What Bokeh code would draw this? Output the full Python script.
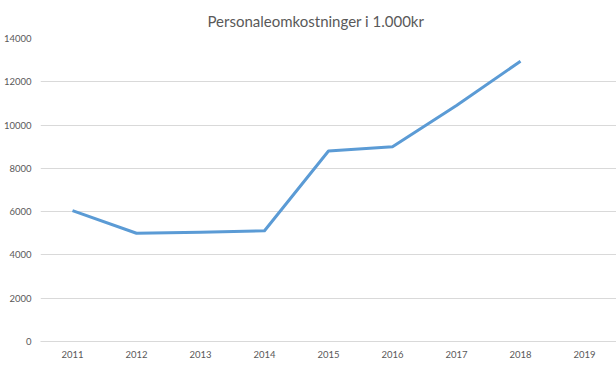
from bokeh.plotting import figure
from bokeh.models import Range1d, FactorRange, SingleIntervalTicker, ColumnDataSource
from bokeh.embed import file_html
from bokeh.resources import INLINE

title_text = "Personaleomkostninger i 1.000kr"
years = ["2011", "2012", "2013", "2014", "2015", "2016", "2017", "2018", "2019"]
line_years = ["2011", "2012", "2013", "2014", "2015", "2016", "2017", "2018"]
values = [6050, 5000, 5050, 5120, 8800, 9000, 10900, 12950]

src = ColumnDataSource(data=dict(x=line_years, y=values))

p = figure(width=616, height=366, output_backend="svg", toolbar_location=None,
           x_range=FactorRange(*years, range_padding=0), y_range=Range1d(0, 14000),
           title=title_text,
           min_border_left=0, min_border_right=0, min_border_top=38, min_border_bottom=25)

p.line("x", "y", source=src, line_color="#5B9BD5", line_width=3, line_join="round")

p.title.align = "left"
p.title.text_font = "Lato"
p.title.text_font_style = "normal"
p.title.text_font_size = "15px"
p.title.text_color = "#595959"
p.title.offset = 167
p.title.standoff = 18

p.outline_line_color = None
p.background_fill_color = "white"
p.border_fill_color = "white"

p.xgrid.grid_line_color = None
p.ygrid.grid_line_color = "#d9d9d9"
p.ygrid.grid_line_width = 1

p.yaxis.ticker = SingleIntervalTicker(interval=2000)
p.yaxis.axis_line_color = None
p.yaxis.major_tick_line_color = None
p.yaxis.minor_tick_line_color = None
p.yaxis.major_label_text_font = "Lato"
p.yaxis.major_label_text_font_size = "9.5px"
p.yaxis.major_label_text_color = "#595959"
p.yaxis.major_label_standoff = 3

p.xaxis.axis_line_color = "#d9d9d9"
p.xaxis.major_tick_line_color = None
p.xaxis.minor_tick_line_color = None
p.xaxis.major_label_text_font = "Lato"
p.xaxis.major_label_text_font_size = "9.5px"
p.xaxis.major_label_text_color = "#595959"
p.xaxis.major_label_standoff = 3

open("out.html", "w").write(file_html(p, INLINE))
